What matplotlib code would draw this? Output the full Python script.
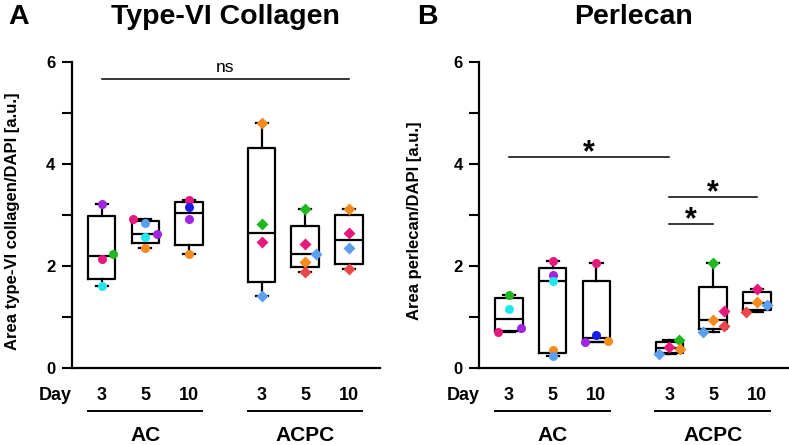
import numpy as np
import matplotlib.pyplot as plt

plt.rcParams['font.family'] = ['Liberation Sans', 'DejaVu Sans']
plt.rcParams['font.weight'] = 'bold'

PURPLE = '#a024e0'
MAGENTA = '#e8197d'
GREEN = '#20b820'
CYAN = '#22e6ee'
LBLUE = '#5b9ef2'
ORANGE = '#f58a1e'
BLUE = '#1a1aeb'
RED = '#ea4848'

day_labels = ['3', '5', '10', '3', '5', '10']
group_labels = ['AC', 'ACPC']

# Type-VI collagen, one list per box (AC d3, d5, d10, ACPC d3, d5, d10)
col_values = [
    [3.22, 2.14, 2.24, 1.61],
    [2.92, 2.84, 2.57, 2.63, 2.35],
    [3.29, 3.16, 2.93, 2.24],
    [4.80, 2.82, 2.48, 1.41],
    [3.12, 2.44, 2.23, 2.08, 1.89],
    [3.12, 2.65, 2.36, 1.94],
]
col_colors = [
    [PURPLE, MAGENTA, GREEN, CYAN],
    [MAGENTA, LBLUE, CYAN, PURPLE, ORANGE],
    [MAGENTA, BLUE, PURPLE, ORANGE],
    [ORANGE, GREEN, MAGENTA, LBLUE],
    [GREEN, MAGENTA, LBLUE, ORANGE, RED],
    [ORANGE, MAGENTA, LBLUE, RED],
]
col_jitter = [
    [0, 0, 0.27, 0],
    [-0.27, 0, 0, 0.26, 0],
    [0, 0, 0, 0],
    [0, 0, 0, 0],
    [0, 0, 0.25, 0, 0],
    [0, 0, 0, 0],
]

# Perlecan
per_values = [
    [1.44, 1.16, 0.70, 0.78],
    [2.09, 1.82, 1.70, 0.35, 0.23],
    [2.06, 0.64, 0.51, 0.53],
    [0.54, 0.41, 0.365, 0.27],
    [2.06, 1.11, 0.95, 0.82, 0.71],
    [1.55, 1.30, 1.235, 1.10],
]
per_colors = [
    [GREEN, CYAN, MAGENTA, PURPLE],
    [MAGENTA, PURPLE, CYAN, ORANGE, LBLUE],
    [MAGENTA, BLUE, PURPLE, ORANGE],
    [GREEN, MAGENTA, ORANGE, LBLUE],
    [GREEN, MAGENTA, ORANGE, RED, LBLUE],
    [MAGENTA, ORANGE, LBLUE, RED],
]
per_jitter = [
    [0, 0, -0.26, 0.27],
    [0, 0, 0, 0, 0],
    [0, 0, -0.27, 0.26],
    [0.23, 0, 0.24, -0.23],
    [0, 0.25, 0, 0.25, -0.24],
    [0, 0, 0.245, -0.245],
]

positions = [1, 2, 3, 4.67, 5.67, 6.67]


def draw_panel(ax, values, colors, jitter, ylabel, lx):
    stats = []
    for v in values:
        q1, med, q3 = np.percentile(v, [25, 50, 75], method='weibull')
        stats.append(dict(med=med, q1=q1, q3=q3, whislo=min(v), whishi=max(v), fliers=[]))
    lp = dict(color='black', linewidth=1.6)
    ax.bxp(stats, positions=positions, widths=0.63, capwidths=0.28, showfliers=False,
           boxprops=lp, medianprops=lp, whiskerprops=lp, capprops=lp)
    for i, v in enumerate(values):
        marker = 'o' if i < 3 else 'D'
        ms = 6.5 if i < 3 else 6
        for y, c, dx in zip(v, colors[i], jitter[i]):
            ax.plot(positions[i] + dx, y, marker=marker, ms=ms, color=c, mec='none',
                    zorder=5, clip_on=False)

    ax.set_xlim(0.32, 7.38)
    ax.set_ylim(0, 6)
    ax.set_yticks(range(7))
    ax.set_yticklabels(['0', '', '2', '', '4', '', '6'], fontsize=12, fontweight='bold')
    ax.set_xticks([])
    ax.tick_params(axis='y', length=7, width=1.5, pad=5)
    for s in ['top', 'right']:
        ax.spines[s].set_visible(False)
    for s in ['left', 'bottom']:
        ax.spines[s].set_linewidth(1.6)
    ax.set_ylabel(ylabel, fontsize=12, fontweight='bold')
    ax.yaxis.set_label_coords(lx, 0.48)

    # day and group labels under the axis
    trans = ax.get_xaxis_transform()
    ax.text(0, -0.09, 'Day', transform=ax.transAxes, ha='right', va='center',
            fontsize=13, fontweight='bold')
    for p, d in zip(positions, day_labels):
        ax.text(p, -0.09, d, transform=trans, ha='center', va='center',
                fontsize=13, fontweight='bold')
    for k, g in enumerate(group_labels):
        p = positions[3 * k:3 * k + 3]
        ax.plot([p[0] - 0.32, p[2] + 0.3], [-0.14, -0.14], color='black', lw=1.4,
                transform=trans, clip_on=False)
        ax.text(p[1], -0.222, g, transform=trans, ha='center', va='center',
                fontsize=15, fontweight='bold')


fig = plt.figure(figsize=(7.89, 4.45), dpi=100)
axA = fig.add_axes([0.0913, 0.173, 0.390, 0.6876])
axB = fig.add_axes([0.6075, 0.173, 0.391, 0.6876])

draw_panel(axA, col_values, col_colors, col_jitter,
           'Area type-VI collagen/DAPI [a.u.]', -0.17)
draw_panel(axB, per_values, per_colors, per_jitter,
           'Area perlecan/DAPI [a.u.]', -0.185)

# significance bars
axA.plot([positions[0], positions[5]], [5.66, 5.66], color='black', lw=1.1)
axA.text((positions[0] + positions[5]) / 2, 5.9, 'ns', ha='center', va='center',
         fontsize=12.5, fontweight='normal')

sig = [(0, 3, 4.13), (3, 5, 3.36), (3, 4, 2.83)]
for a, b, h in sig:
    axB.plot([positions[a], positions[b]], [h, h], color='black', lw=1.1)
    axB.text((positions[a] + positions[b]) / 2, h - 0.22, '*', ha='center', va='bottom',
             fontsize=22, fontweight='bold')

fig.text(19 / 789, 1 - 17 / 445, 'A', ha='center', va='center', fontsize=20.5, fontweight='bold')
fig.text(225 / 789, 1 - 17 / 445, 'Type-VI Collagen', ha='center', va='center',
         fontsize=20.5, fontweight='bold')
fig.text(427 / 789, 1 - 17 / 445, 'B', ha='center', va='center', fontsize=20.5, fontweight='bold')
fig.text(634 / 789, 1 - 17 / 445, 'Perlecan', ha='center', va='center',
         fontsize=20.5, fontweight='bold')

fig.savefig('out.png', dpi=100)
